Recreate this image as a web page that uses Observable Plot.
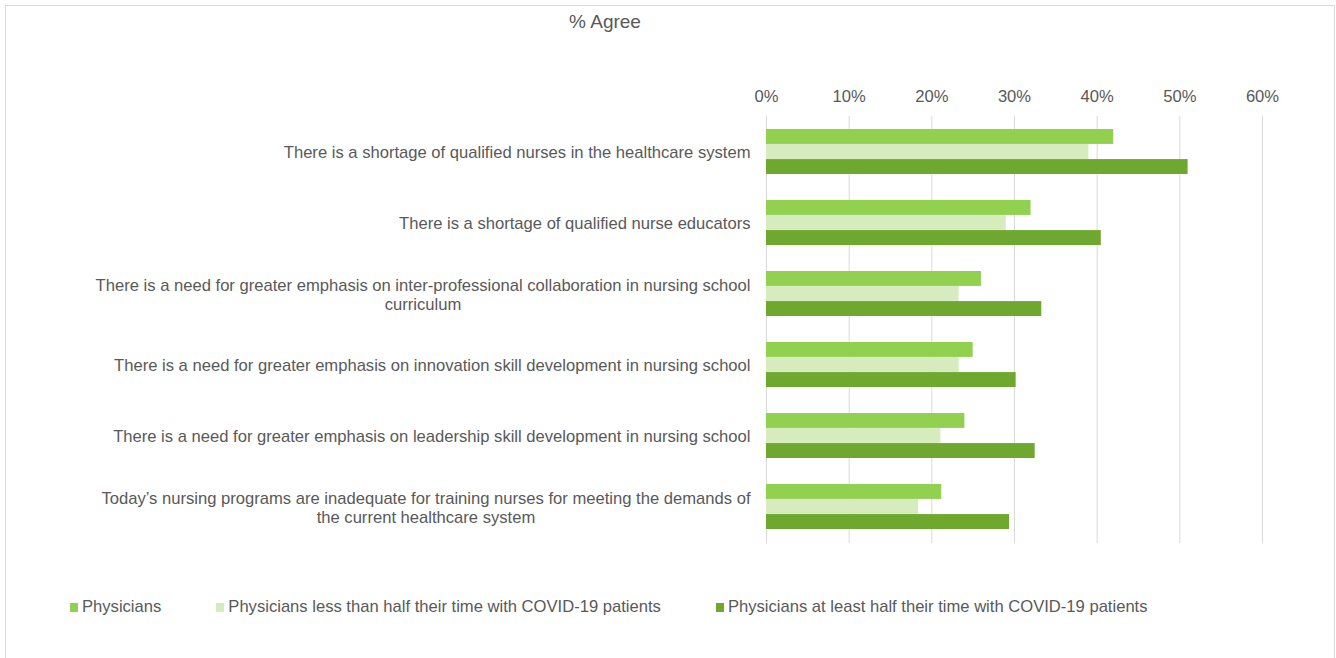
<!DOCTYPE html>
<html>
<head>
<meta charset="utf-8">
<script src="https://cdn.jsdelivr.net/npm/d3@7"></script>
<script src="https://cdn.jsdelivr.net/npm/@observablehq/plot@0.6"></script>
<style>
  html, body { margin: 0; padding: 0; background: #fff; }
  #wrap { position: relative; width: 1336px; height: 658px; overflow: hidden; font-family: "Liberation Sans", Arial, sans-serif; color: #595959; }
  #frame { position: absolute; left: 5px; top: 5px; width: 1330px; height: 660px; border: 1px solid #d9d9d9; box-sizing: border-box; }
  #title { position: absolute; left: 0; width: 1210px; top: 11px; text-align: center; font-size: 19px; color: #595959; }
  #chart { position: absolute; left: 0; top: 0; }
  #legend { position: absolute; left: 70px; top: 597px; display: flex; gap: 55px; font-size: 16.6px; color: #595959; }
  #legend .item { display: flex; align-items: center; }
  #legend .sw { width: 8px; height: 9px; margin-right: 4px; }
</style>
</head>
<body>
<div id="wrap">
  <div id="frame"></div>
  <div id="title">% Agree</div>
  <div id="chart"></div>
  <div id="legend"></div>
</div>
<script>
const categories = [
  "There is a shortage of qualified nurses in the healthcare system",
  "There is a shortage of qualified nurse educators",
  "There is a need for greater emphasis on inter-professional collaboration in nursing school curriculum",
  "There is a need for greater emphasis on innovation skill development in nursing school",
  "There is a need for greater emphasis on leadership skill development in nursing school",
  "Today's nursing programs are inadequate for training nurses for meeting the demands of the current healthcare system"
];
const tickLabels = [
  "There is a shortage of qualified nurses in the healthcare system",
  "There is a shortage of qualified nurse educators",
  "There is a need for greater emphasis on inter-professional collaboration in nursing school\ncurriculum",
  "There is a need for greater emphasis on innovation skill development in nursing school",
  "There is a need for greater emphasis on leadership skill development in nursing school",
  "Today\u2019s nursing programs are inadequate for training nurses for meeting the demands of\nthe current healthcare system"
];
const seriesNames = [
  "Physicians",
  "Physicians less than half their time with COVID-19 patients",
  "Physicians at least half their time with COVID-19 patients"
];
const seriesColors = ["#92d050", "#d6ecbe", "#6fa82f"];
const physicians      = [0.42, 0.32, 0.26, 0.25, 0.24, 0.212];
const physiciansLess  = [0.39, 0.29, 0.233, 0.233, 0.211, 0.184];
const physiciansMore  = [0.51, 0.405, 0.333, 0.302, 0.325, 0.294];
const xTicks = [0, 0.1, 0.2, 0.3, 0.4, 0.5, 0.6];

const seriesValues = [physicians, physiciansLess, physiciansMore];
const rows = [];
seriesValues.forEach((vals, s) => vals.forEach((v, i) => rows.push({cat: categories[i], series: seriesNames[s], s, value: v})));

const fontSize = 16.6;
const fontFamily = '"Liberation Sans", Arial, sans-serif';
const ctx = document.createElement("canvas").getContext("2d");
ctx.font = `${fontSize}px ${fontFamily}`;
const labelOf = new Map(categories.map((c, i) => [c, tickLabels[i]]));
const widthOf = c => d3.max(labelOf.get(c).split("\n"), l => ctx.measureText(l).width);

const W = 1336, H = 560;
const mLeft = 766, mRight = 74, mTop = 116, mBottom = 17;
const bandStep = (H - mTop - mBottom) / categories.length;
const bandWidth = bandStep * (1 - 0.366);
const third = bandWidth / 3;

const labelAxes = categories.map(c => Plot.axisY({
  ticks: [c],
  tickSize: 0,
  tickPadding: 16,
  tickFormat: d => labelOf.get(d),
  textAnchor: "middle",
  dx: -widthOf(c) / 2,
  lineHeight: 19 / fontSize,
  fill: "#595959",
  fontSize,
  label: null
}));

const chart = Plot.plot({
  width: W,
  height: H,
  marginLeft: mLeft,
  marginRight: mRight,
  marginTop: mTop,
  marginBottom: mBottom,
  style: {fontFamily, fontSize: fontSize + "px", color: "#595959", background: "transparent"},
  x: {domain: [0, 0.6], axis: null, label: null},
  y: {domain: categories, paddingInner: 0.366, paddingOuter: 0.183, axis: null, label: null},
  marks: [
    Plot.gridX(xTicks, {stroke: "#d9d9d9", strokeOpacity: 1, strokeWidth: 1}),
    Plot.axisX({
      anchor: "top",
      ticks: xTicks,
      tickSize: 0,
      tickPadding: 15,
      tickFormat: d => Math.round(d * 100) + "%",
      fill: "#595959",
      fontSize,
      label: null
    }),
    ...labelAxes,
    ...seriesNames.map((name, s) => Plot.barX(rows.filter(r => r.s === s), {
      x: "value",
      y: "cat",
      fill: seriesColors[s],
      insetTop: s * third,
      insetBottom: (2 - s) * third
    }))
  ]
});
document.getElementById("chart").appendChild(chart);

const legend = document.getElementById("legend");
seriesNames.forEach((name, s) => {
  const it = document.createElement("div");
  it.className = "item";
  const sw = document.createElement("span");
  sw.className = "sw";
  sw.style.background = seriesColors[s];
  const tx = document.createElement("span");
  tx.textContent = name;
  it.appendChild(sw); it.appendChild(tx);
  legend.appendChild(it);
});
</script>
</body>
</html>
